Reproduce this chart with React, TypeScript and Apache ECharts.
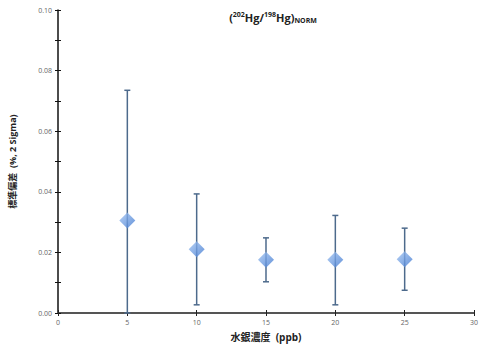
import React, { useEffect, useRef } from "react";
import * as echarts from "echarts";

const concentrations = [5, 10, 15, 20, 25];
const meanValues = [0.0305, 0.021, 0.0176, 0.0176, 0.0177];
const upperValues = [0.0735, 0.0393, 0.0248, 0.0322, 0.028];
const lowerValues = [0.0, 0.0027, 0.0103, 0.0027, 0.0075];
const xTicks = [0, 5, 10, 15, 20, 25, 30];
const yTicks = [0, 0.02, 0.04, 0.06, 0.08, 0.1];

export default function App() {
  const ref = useRef<HTMLDivElement>(null);
  useEffect(() => {
    const chart = echarts.init(ref.current!, null, { renderer: "svg" });
    const font = "'Open Sans', 'Noto Sans CJK JP', sans-serif";
    const errData = concentrations.map((c, i) => [c, lowerValues[i], upperValues[i]]);
    const ptData = concentrations.map((c, i) => [c, meanValues[i]]);
    const labelStyle = { color: "#666", fontSize: 7, fontFamily: font };
    const xBase = {
      type: "value",
      min: xTicks[0],
      max: xTicks[xTicks.length - 1],
      interval: 5,
      splitLine: { show: false },
    };
    const yBase = {
      type: "value",
      min: yTicks[0],
      max: yTicks[yTicks.length - 1],
      interval: 0.02,
      splitLine: { show: false },
    };
    chart.setOption({
      animation: false,
      title: {
        text: "({s|202}{b|Hg/}{s|198}{b|Hg)}{sub|NORM}",
        left: 268,
        textAlign: "center",
        top: 6,
        textStyle: {
          rich: {
            b: { fontSize: 11, fontWeight: "bold", color: "#222", fontFamily: font },
            s: { fontSize: 7, fontWeight: "bold", color: "#222", fontFamily: font, padding: [0, 0, 6, 0] },
            sub: { fontSize: 7, fontWeight: "bold", color: "#222", fontFamily: font, padding: [6, 0, 0, 0] },
          },
          fontSize: 11,
          fontWeight: "bold",
          color: "#222",
          fontFamily: font,
        },
      },
      grid: { left: 55, right: 1.5, top: 10, bottom: 30, containLabel: false },
      xAxis: [
        {
          ...xBase,
          position: "bottom",
          axisLine: { lineStyle: { color: "#555", width: 2 } },
          axisTick: { show: true, length: 3, lineStyle: { color: "#222", width: 1 } },
          axisLabel: { ...labelStyle, margin: 6 },
          name: "水銀濃度  (ppb)",
          nameLocation: "middle",
          nameGap: 19,
          nameTextStyle: { fontSize: 10, fontWeight: "bold", color: "#222", fontFamily: font },
        },
        {
          ...xBase,
          position: "bottom",
          axisLine: { show: false, onZero: false },
          axisTick: { show: true, inside: true, length: 3, lineStyle: { color: "#222", width: 1 } },
          axisLabel: { show: false },
        },
      ],
      yAxis: [
        {
          ...yBase,
          position: "left",
          axisLine: { show: true, lineStyle: { color: "#111", width: 1.5 } },
          axisTick: { show: true, length: 3, lineStyle: { color: "#111", width: 1 } },
          minorTick: { show: true, splitNumber: 2, length: 3, lineStyle: { color: "#111", width: 1 } },
          axisLabel: { ...labelStyle, margin: 6, formatter: (v: number) => v.toFixed(2) },
          name: "標準偏差  (%, 2 Sigma)",
          nameLocation: "middle",
          nameGap: 41,
          nameTextStyle: { fontSize: 9, fontWeight: "bold", color: "#222", fontFamily: font },
        },
        {
          ...yBase,
          position: "left",
          axisLine: { show: false, onZero: false },
          axisTick: { show: true, inside: true, length: 3, lineStyle: { color: "#111", width: 1 } },
          minorTick: { show: true, splitNumber: 2, length: 3, lineStyle: { color: "#111", width: 1 } },
          axisLabel: { show: false },
        },
      ],
      series: [
        {
          type: "custom",
          data: errData,
          z: 2,
          renderItem: (params: any, api: any) => {
            const x = api.value(0);
            const lo = api.coord([x, api.value(1)]);
            const hi = api.coord([x, api.value(2)]);
            const cap = 3;
            const style = { stroke: "#4d6a8c", lineWidth: 1.5 };
            return {
              type: "group",
              children: [
                { type: "line", shape: { x1: lo[0], y1: lo[1], x2: hi[0], y2: hi[1] }, style },
                { type: "line", shape: { x1: hi[0] - cap, y1: hi[1], x2: hi[0] + cap, y2: hi[1] }, style },
                { type: "line", shape: { x1: lo[0] - cap, y1: lo[1], x2: lo[0] + cap, y2: lo[1] }, style },
              ],
            };
          },
        },
        {
          type: "scatter",
          data: ptData,
          symbol: "diamond",
          symbolSize: [16, 16],
          z: 3,
          itemStyle: {
            color: new echarts.graphic.LinearGradient(0, 0, 1, 1, [
              { offset: 0, color: "#a2c4f2" },
              { offset: 1, color: "#3f78d0" },
            ]),
          },
        },
      ],
    });
    return () => chart.dispose();
  }, []);
  return <div ref={ref} style={{ width: 481, height: 347, position: "absolute", left: 0, top: 0 }} />;
}
